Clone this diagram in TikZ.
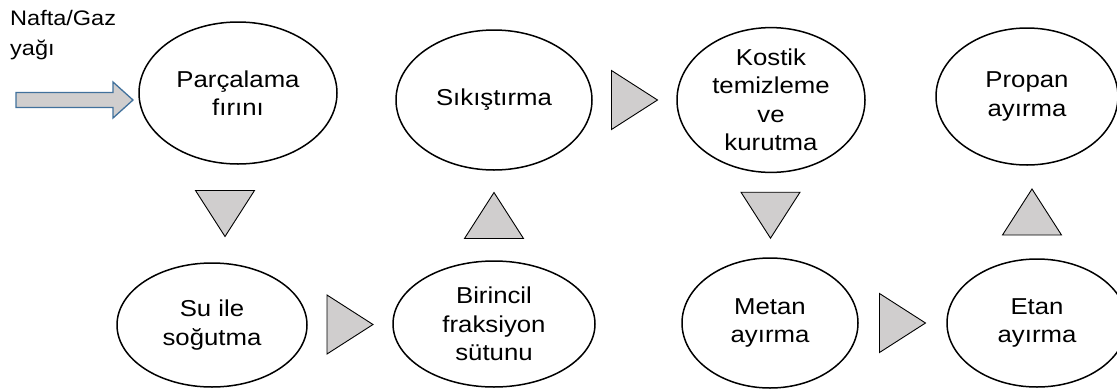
\documentclass[tikz,border=0pt]{standalone}
\usepackage{fontspec}
\setmainfont{Liberation Sans}[FakeStretch=1.12]
\usetikzlibrary{shapes.geometric,calc}
\definecolor{trigray}{RGB}{208,206,206}
\definecolor{arrowblue}{RGB}{65,113,156}
\tikzset{
  proc/.style={ellipse, draw=black, line width=1.5pt, inner sep=0pt, align=center,
    font=\fontsize{23}{28.5}\selectfont, text=black},
  tri/.style={fill=trigray, draw=black, line width=0.9pt, line join=miter},
  trright/.pic={\path[tri] (-23,-29.5) -- (23,0) -- (-23,29.5) -- cycle;},
  trdown/.pic={\path[tri] (-29.5,-23) -- (29.5,-23) -- (0,23) -- cycle;},
  trup/.pic={\path[tri] (-29.5,23) -- (29.5,23) -- (0,-23) -- cycle;},
}
\begin{document}
\begin{tikzpicture}[x=1pt, y=-1pt]
\useasboundingbox (0,0) rectangle (1117,389);
% nodes
\node[proc, minimum width=198pt, minimum height=142pt] (A) at (238,93) {Parçalama\\fırını};
\node[proc, minimum width=196pt, minimum height=140pt] (B) at (494,100) {Sıkıştırma};
\node[proc, minimum width=188pt, minimum height=136pt] (C) at (771,100) {Kostik\\temizleme\\ve\\kurutma};
\node[proc, minimum width=182pt, minimum height=137pt] (D) at (1027,96.5) {Propan\\ayırma};
\node[proc, minimum width=190pt, minimum height=124pt] (E) at (212,325) {Su ile\\soğutma};
\node[proc, minimum width=202pt, minimum height=126pt] (F) at (494,324) {Birincil\\fraksiyon\\sütunu};
\node[proc, minimum width=176pt, minimum height=130pt] (G) at (770,323) {Metan\\ayırma};
\node[proc, minimum width=180pt, minimum height=128pt] (H) at (1037,323) {Etan\\ayırma};
% input label
\node[anchor=base west, inner sep=0pt, align=left, font=\fontsize{21}{30}\selectfont, text=black] (feed) at (10,55) {Nafta/Gaz\\yağı};
% input block arrow
\coordinate (tip) at (133,100);
\filldraw[fill=trigray, draw=arrowblue, line width=1.3pt, line join=miter]
  (16,92.5) -- (113,92.5) -- (113,82) -- (tip) -- (113,118) -- (113,107.5) -- (16,107.5) -- cycle;
% triangle connectors
\pic at ($(A.south)!0.5!(E.north)$) {trdown};
\pic at ($(E.east)!0.5!(F.west)$) {trright};
\pic at ($(F.north)!0.5!(B.south)$) {trup};
\pic at ($(B.east)!0.5!(C.west)$) {trright};
\pic at ($(C.south)!0.5!(G.north)$) {trdown};
\pic at ($(G.east)!0.5!(H.west)$) {trright};
\pic at ($(H.north)!0.5!(D.south)$) {trup};
\end{tikzpicture}
\end{document}
